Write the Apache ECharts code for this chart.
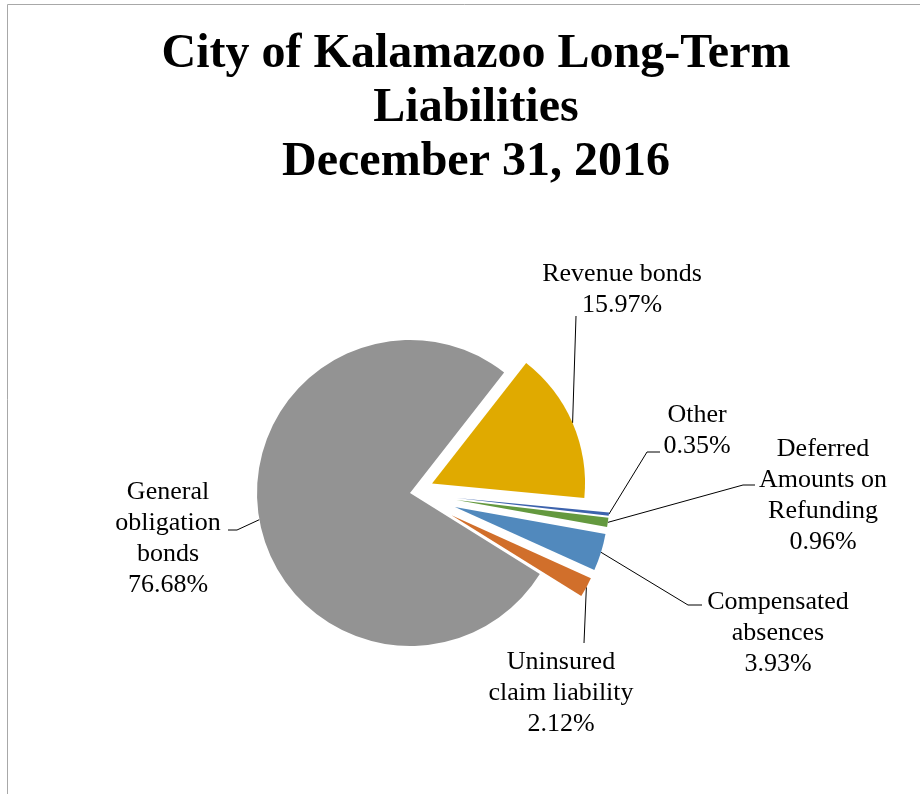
<!DOCTYPE html>
<html>
<head>
<meta charset="utf-8">
<script src="https://cdn.jsdelivr.net/npm/echarts@6/dist/echarts.min.js"></script>
<style>
html, body { margin: 0; padding: 0; background: #fff; }
#chart { width: 920px; height: 794px; }
</style>
</head>
<body>
<div id="chart"></div>
<script>
// slices in workbook order, drawn clockwise from the first one
const categories = ['Compensated absences', 'Uninsured claim liability', 'General obligation bonds', 'Revenue bonds', 'Other', 'Deferred Amounts on Refunding'];
const labelNames = ['Compensated\nabsences', 'Uninsured\nclaim liability', 'General\nobligation\nbonds', 'Revenue bonds', 'Other', 'Deferred\nAmounts on\nRefunding'];
const percents = [3.93, 2.12, 76.68, 15.97, 0.35, 0.96];
const colors = ['#5189bd', '#d16f2b', '#939393', '#e0aa00', '#3d63ad', '#64993f'];

// how far each slice is pulled out of the pie (px)
const pullOut = [47, 47, 0, 24, 47, 47];
// centre of each label block
const labelPos = [[778, 633], [561, 693], [168, 539], [622, 290], [697, 431], [823, 496]];
// leader line: bend point and end point next to the label
const leaderEnds = [
    [[688, 605], [702, 605]],
    [[584, 643], [584, 643]],
    [[237, 530], [228, 530]],
    [[576, 316], [576, 316]],
    [[647, 452], [660, 452]],
    [[743, 485], [755, 485]]
];

const pieCenter = [410, 493];
const startAngle = -10.17;

// every slice gets its own pie so it can be moved along its own bisector
function sliceCenter(i) {
    const total = percents.reduce((a, b) => a + b, 0);
    let before = 0;
    for (let k = 0; k < i; k++) before += percents[k];
    const mid = (startAngle - 360 * (before + percents[i] / 2) / total) * Math.PI / 180;
    return [pieCenter[0] + pullOut[i] * Math.cos(mid), pieCenter[1] - pullOut[i] * Math.sin(mid)];
}

function makeSeries(i) {
    return {
        type: 'pie',
        center: sliceCenter(i),
        radius: 153,
        startAngle: startAngle,
        clockwise: true,
        avoidLabelOverlap: false,
        silent: true,
        animation: false,
        emphasis: { disabled: true },
        label: {
            fontFamily: 'Liberation Serif',
            fontSize: 26,
            lineHeight: 31,
            color: '#000',
            align: 'center',
            formatter: p => labelNames[p.dataIndex] + '\n' + p.value.toFixed(2) + '%'
        },
        labelLine: {
            length: 10,
            length2: 12,
            lineStyle: { color: '#000', width: 1 }
        },
        labelLayout: p => {
            const out = {
                x: labelPos[p.dataIndex][0],
                y: labelPos[p.dataIndex][1],
                align: 'center',
                verticalAlign: 'middle'
            };
            // keep the start on the slice edge, as the library placed it
            if (p.labelLinePoints) {
                out.labelLinePoints = [p.labelLinePoints[0]].concat(leaderEnds[p.dataIndex]);
            }
            return out;
        },
        data: categories.map((name, k) => ({
            name: name,
            value: percents[k],
            itemStyle: { color: k === i ? colors[k] : 'rgba(0,0,0,0)' },
            label: { show: k === i },
            labelLine: { show: k === i }
        }))
    };
}

const chart = echarts.init(document.getElementById('chart'));
chart.setOption({
    backgroundColor: '#fff',
    graphic: [{
        type: 'rect',
        shape: { x: 7.5, y: 4.5, width: 1000, height: 1000 },
        style: { fill: 'none', stroke: '#a8a8a8', lineWidth: 1 },
        silent: true
    }, {
        type: 'text',
        x: 476,
        y: 28,
        silent: true,
        style: {
            text: 'City of Kalamazoo Long-Term\nLiabilities\nDecember 31, 2016',
            fontFamily: 'Liberation Serif',
            fontWeight: 'bold',
            fontSize: 48,
            lineHeight: 54,
            align: 'center',
            verticalAlign: 'top',
            fill: '#000'
        }
    }],
    series: categories.map((c, i) => makeSeries(i))
});
</script>
</body>
</html>
